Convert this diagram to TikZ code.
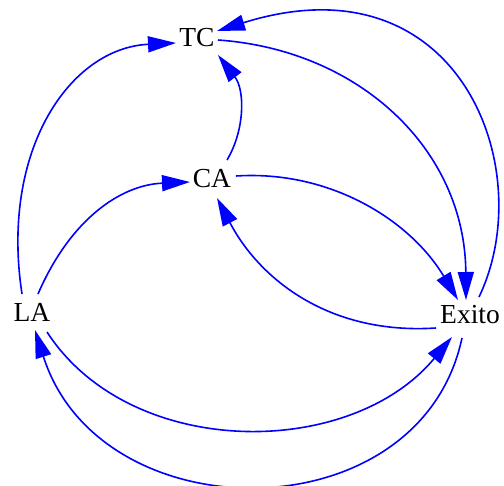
\documentclass[tikz,border=0pt]{standalone}
\usepackage{fontspec}
\setmainfont{Liberation Serif}
\usetikzlibrary{arrows.meta}
\begin{document}
\begin{tikzpicture}[x=1pt,y=-1pt,
  lbl/.style={inner sep=0pt,font=\fontsize{27.5}{32}\selectfont},
  edge/.style={draw={rgb,255:red,0;green,0;blue,255},line width=1.6pt,
    -{Triangle[length=28pt,width=16pt]},
    fill=none}]
\useasboundingbox (0,0) rectangle (504,486);
\node[lbl] (TC) at (197,38) {TC};
\node[lbl] (CA) at (212,179) {CA};
\node[lbl] (LA) at (32,312) {LA};
\node[lbl] (Ex) at (470,315) {Exito};
% LA -> TC
\draw[edge] ([shift={(-10,-18)}]LA.center) .. controls (0,150) and (70,48) .. ([shift={(-21,5)}]TC.center);
% TC -> Exito
\draw[edge] ([shift={(21,2)}]TC.center) .. controls (360,50) and (465,150) .. ([shift={(-4,-15)}]Ex.center);
% Exito -> TC
\draw[edge] ([shift={(9,-18)}]Ex.center) .. controls (540,170) and (460,-45) .. ([shift={(20,-7)}]TC.center);
% CA -> TC
\draw[edge] ([shift={(15,-19)}]CA.center) .. controls (245,130) and (245,90) .. ([shift={(21,17)}]TC.center);
% LA -> CA
\draw[edge] ([shift={(6,-18)}]LA.center) .. controls (70,220) and (120,185) .. ([shift={(-22,3)}]CA.center);
% CA -> Exito
\draw[edge] ([shift={(24,-3)}]CA.center) .. controls (330,170) and (410,220) .. ([shift={(-12,-15)}]Ex.center);
% Exito -> CA
\draw[edge] ([shift={(-34,13)}]Ex.center) .. controls (330,335) and (260,280) .. ([shift={(5,19)}]CA.center);
% LA -> Exito
\draw[edge] ([shift={(15,20)}]LA.center) .. controls (130,460) and (350,460) .. ([shift={(-18,22)}]Ex.center);
% Exito -> LA
\draw[edge] ([shift={(-8,23)}]Ex.center) .. controls (420,535) and (100,535) .. ([shift={(3,18)}]LA.center);
\end{tikzpicture}
\end{document}
